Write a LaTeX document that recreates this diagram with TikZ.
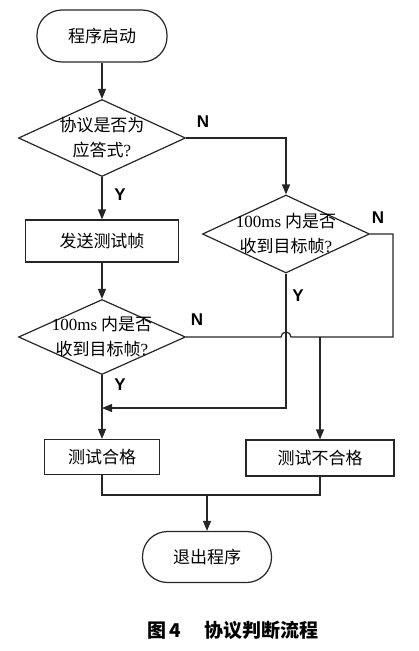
\documentclass[tikz,border=0pt]{standalone}
\usepackage{fontspec}
\setmainfont{Liberation Serif}
\newfontfamily\cjk{Noto Sans CJK SC}
\newfontfamily\yn{Liberation Sans}
\usetikzlibrary{shapes.geometric,arrows.meta,positioning}
\tikzset{
  line/.style={draw=black!85,line width=1.2pt},
  arrow/.style={line,-{Triangle[length=10pt,width=8pt]}},
  term/.style={line,rectangle,rounded corners=25pt,font=\cjk\fontsize{17}{22}\selectfont},
  proc/.style={line,rectangle,font=\cjk\fontsize{17}{22}\selectfont},
  decide/.style={line,diamond,inner sep=0pt,minimum width=167pt,minimum height=77pt},
  dtext/.style={align=center,font=\cjk\fontsize{17}{25}\selectfont},
  yn/.style={font=\yn\bfseries\fontsize{17}{20}\selectfont}
}
\begin{document}
\begin{tikzpicture}[x=1pt,y=-1pt]
\useasboundingbox (0,0) rectangle (418,651);
\node[term,minimum width=130pt,minimum height=52pt] (start) at (102,36) {程序启动};
\node[decide,label={[dtext]center:协议是否为\\应答式{\rmfamily ?}}] (dec1) at (102,138) {};
\node[proc,minimum width=153pt,minimum height=42pt] (send) at (102,241) {发送测试帧};
\node[decide,minimum height=78pt,label={[dtext]center:{\rmfamily 100ms} 内是否\\收到目标帧{\rmfamily ?}}] (dec2) at (286,234) {};
\node[decide,minimum height=75pt,label={[dtext]center:{\rmfamily 100ms} 内是否\\收到目标帧{\rmfamily ?}}] (dec3) at (102,337) {};
\node[proc,minimum width=115pt,minimum height=35pt] (pass) at (102,457) {测试合格};
\node[proc,minimum width=148pt,minimum height=36pt] (fail) at (320,458) {测试不合格};
\node[term,minimum width=129pt,minimum height=51pt] (stop) at (207,557) {退出程序};
\coordinate (rt) at (393,337);
\coordinate (j1) at (320,337);
\coordinate (j2) at (102,408);
\coordinate (j3) at (207,495);
\draw[arrow] (start) -- (dec1);
\draw[arrow] (dec1.east) -| (dec2.north);
\draw[arrow] (dec1) -- (send);
\draw[arrow] (send) -- (dec3);
\draw[line] (dec3.east) -- ([xshift=-5pt]dec2.south |- dec3.east) arc[start angle=180,end angle=0,radius=5pt] -- (rt) |- (dec2.east);
\draw[arrow] (j1) -- (fail);
\draw[arrow] (dec2.south) |- (j2);
\draw[arrow] (dec3) -- (pass);
\draw[line] (pass) |- (j3) -| (fail);
\draw[arrow] (j3) -- (stop);
\node[yn] (n1) at (203,122) {N};
\node[yn] (y1) at (120,195) {Y};
\node[yn] (n2) at (378,218) {N};
\node[yn] (y2) at (298,296) {Y};
\node[yn] (n3) at (197,320) {N};
\node[yn] (y3) at (120,385) {Y};
\node[font=\cjk\bfseries\fontsize{19}{22}\selectfont] (cap) at (233,630) {图\,4\hspace{24pt}协议判断流程};
\end{tikzpicture}
\end{document}
